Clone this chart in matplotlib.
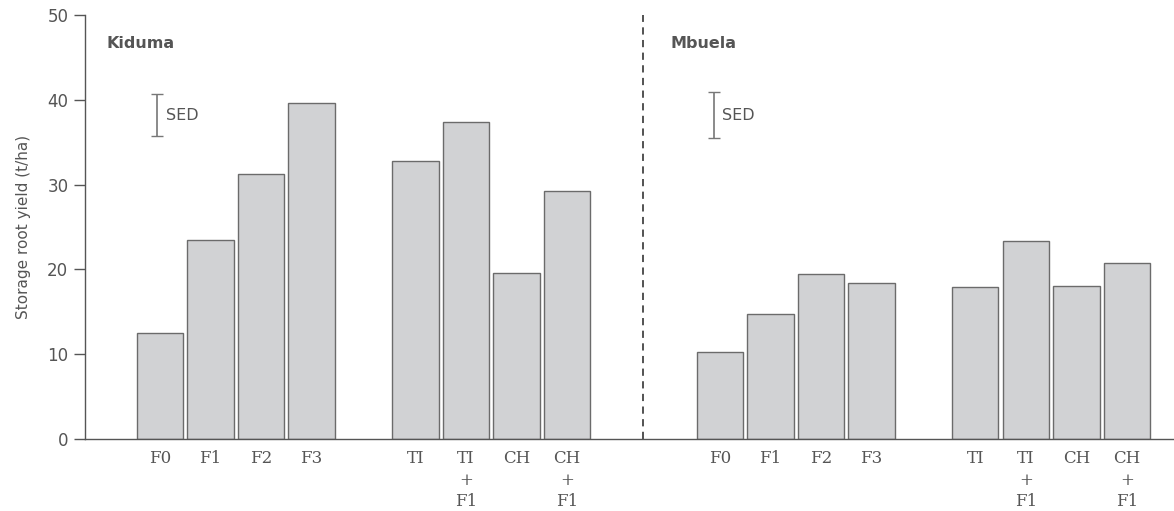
import numpy as np
import matplotlib.pyplot as plt

# ===== data =====
treatments = ['F0', 'F1', 'F2', 'F3', 'TI', 'TI\n+\nF1', 'CH', 'CH\n+\nF1']
kiduma = [12.5, 23.5, 31.2, 39.6, 32.8, 37.4, 19.6, 29.3]
mbuela = [10.3, 14.8, 19.5, 18.4, 17.9, 23.3, 18.1, 20.8]
sed_kiduma = 5.0
sed_mbuela = 5.4
sites = ['Kiduma', 'Mbuela']

# bar slots: 4 fertiliser bars, a gap, 4 other treatments
slots = np.array([0, 1, 2, 3, 5.05, 6.05, 7.05, 8.05])
site_offset = 11.07

grey = '#555555'
plt.rcParams['font.family'] = ['DejaVu Sans']
plt.rcParams['text.color'] = grey

fig = plt.figure(figsize=(11.74, 5.11), dpi=100)
ax = fig.add_axes([0.0724, 0.1409, 0.9276, 0.8297])

for off, vals in [(0, kiduma), (site_offset, mbuela)]:
    ax.bar(slots + off, vals, width=0.92, color='#d1d2d4',
           edgecolor='#6b6b6b', linewidth=1.0, zorder=2)

# SED bars
for off, sed in [(-0.05, sed_kiduma), (10.95, sed_mbuela)]:
    ax.errorbar(off, 38.2, yerr=sed / 2, fmt='none', ecolor='#777777',
                elinewidth=1.2, capsize=4, capthick=1.0)
    ax.text(off + 0.17, 38.2, 'SED', ha='left', va='center', fontsize=11.5, color=grey)

# site names
ax.text(-1.05, 46.6, sites[0], fontsize=11.5, fontweight='bold', color=grey, va='center')
ax.text(10.1, 46.6, sites[1], fontsize=11.5, fontweight='bold', color=grey, va='center')

# divider
ax.axvline(9.55, color='#444444', linestyle=(0, (4, 3)), linewidth=1.3)

ax.set_xlim(-1.48, 20.05)
ax.set_ylim(0, 50)
ax.set_yticks([0, 10, 20, 30, 40, 50])
ax.set_xticks(np.concatenate([slots, slots + site_offset]))
ax.set_xticklabels(treatments * 2, fontsize=12, color=grey, linespacing=1.35,
                   family='DejaVu Serif')
ax.tick_params(axis='x', length=0, pad=8)
ax.tick_params(axis='y', length=8, width=1, color=grey, labelsize=12, labelcolor=grey, pad=4)
ax.set_ylabel('Storage root yield (t/ha)', fontsize=11, color=grey, labelpad=12)

for s in ['top', 'right']:
    ax.spines[s].set_visible(False)
for s in ['left', 'bottom']:
    ax.spines[s].set_color(grey)
    ax.spines[s].set_linewidth(1.0)

fig.savefig('out.png', dpi=100)
